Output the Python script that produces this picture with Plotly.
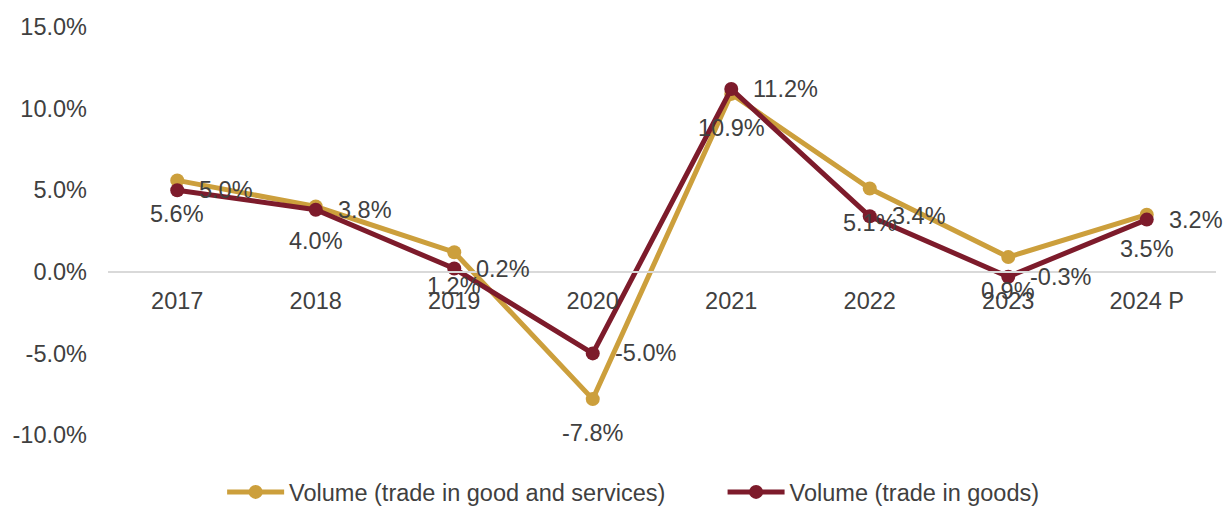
import plotly.graph_objects as go

years = ["2017", "2018", "2019", "2020", "2021", "2022", "2023", "2024 P"]
goods_services = [5.6, 4.0, 1.2, -7.8, 10.9, 5.1, 0.9, 3.5]
goods = [5.0, 3.8, 0.2, -5.0, 11.2, 3.4, -0.3, 3.2]
name_gs = "Volume (trade in good and services)"
name_g = "Volume (trade in goods)"
y_ticks = [-10, -5, 0, 5, 10, 15]
y_tick_labels = ["-10.0%", "-5.0%", "0.0%", "5.0%", "10.0%", "15.0%"]

GOLD = "#CC9F3C"
RED = "#7D1B2B"
TXT = "#404040"
FONT = "Liberation Sans, Arial, sans-serif"
FS = 23.5
PAD = "\u00a0" * 8

y_min, y_max = -10, 15

fig = go.Figure()
fig.add_trace(go.Scatter(x=years, y=goods_services, name=name_gs + PAD, mode="lines+markers",
                         line=dict(color=GOLD, width=5), marker=dict(size=14, color=GOLD)))
fig.add_trace(go.Scatter(x=years, y=goods, name=name_g, mode="lines+markers",
                         line=dict(color=RED, width=5), marker=dict(size=14, color=RED)))

ann = []
for i, v in enumerate(goods_services):
    ann.append(dict(x=i, y=v, text=f"{v:.1f}%", showarrow=False, xanchor="center", yanchor="top",
                    yshift=-19, font=dict(family=FONT, size=FS, color=TXT)))
for i, v in enumerate(goods):
    ann.append(dict(x=i, y=v, text=f"{v:.1f}%", showarrow=False, xanchor="left", yanchor="middle",
                    xshift=20, font=dict(family=FONT, size=FS, color=TXT)))

fig.update_layout(
    width=1226, height=506,
    margin=dict(l=108, r=10, t=27, b=71, autoexpand=False),
    paper_bgcolor="white", plot_bgcolor="white",
    font=dict(family=FONT, size=FS, color=TXT),
    annotations=ann,
    showlegend=True,
    legend=dict(orientation="h", x=0.103, xanchor="left", y=-0.14, yanchor="middle",
                itemwidth=57,
                font=dict(family=FONT, size=FS, color=TXT), tracegroupgap=0),
    xaxis=dict(type="category", range=[-0.5, len(years) - 0.5], showgrid=False, zeroline=False,
               showline=True, linecolor="#D9D9D9", linewidth=2, ticks="",
               anchor="free", position=(0 - y_min) / (y_max - y_min), ticklabelstandoff=8,
               tickfont=dict(family=FONT, size=FS, color=TXT)),
    yaxis=dict(range=[y_min, y_max], tickvals=y_ticks, ticktext=y_tick_labels,
               showgrid=False, zeroline=False, showline=False, ticks="",
               ticklabelstandoff=20, tickfont=dict(family=FONT, size=FS, color=TXT)),
)

fig.write_html("out.html")
